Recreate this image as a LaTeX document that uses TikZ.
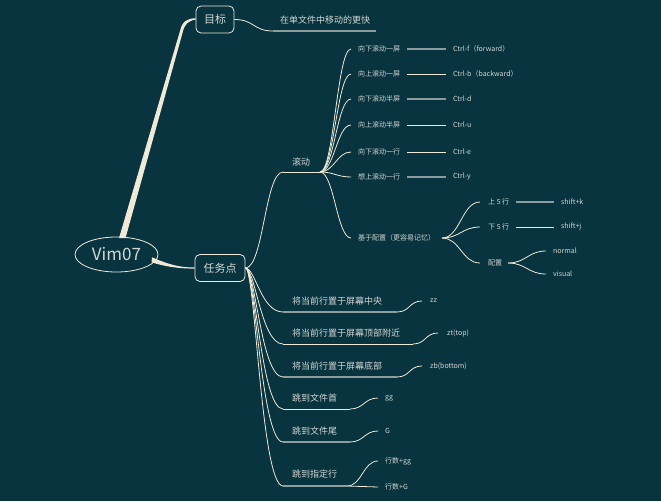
\documentclass[tikz,border=0pt]{standalone}
\usepackage{fontspec}
\setmainfont{Noto Sans CJK SC}
\usetikzlibrary{shapes.geometric,calc}
\definecolor{bg}{HTML}{07343F}
\definecolor{cream}{HTML}{EFE9D6}
\definecolor{txt}{HTML}{D3D7D2}
\definecolor{ulgray}{HTML}{8D9D9D}
\begin{document}
\begin{tikzpicture}[x=1pt,y=-1pt,
  conn/.style={draw=cream,line width=0.8pt},
  ulw/.style={draw=cream,line width=1pt},
  ulg/.style={draw=ulgray,line width=1.7pt},
  lbl/.style={text=txt,inner sep=0pt,anchor=west},
  small/.style={lbl,font=\fontsize{7}{8}\selectfont},
  mid/.style={lbl,font=\fontsize{9}{11}\selectfont},
  topbox/.style={draw=cream,line width=0.8pt,rounded corners=5pt,fill=bg,text=txt,
    font=\fontsize{11}{13}\selectfont,inner sep=0pt,minimum height=27pt},
  fan/.style={conn},
]
\fill[bg] (0,0) rectangle (661,501);
\useasboundingbox (0,0) rectangle (661,501);

% main nodes
\node[draw=cream,ellipse,line width=0.8pt,fill=bg,text=txt,minimum width=83pt,minimum height=35pt,
  inner sep=0pt,font=\fontsize{17}{20}\selectfont] (vim) at (116.5,254.5) {Vim07};
\node[topbox,minimum width=38pt] (goal) at (215,19.5) {目标};
\node[topbox,minimum width=50pt] (task) at (220,268) {任务点};

% tapered connectors
\coordinate (vg0) at (vim.north);
\fill[cream] ($(vg0)+(2.5,1.5)$) -- ($(vg0)+(9,1.5)$) -- (182.5,33)
  .. controls (184.5,24) and (188,21) .. (goal.west)
  -- ($(goal.west)+(0,-1.3)$) .. controls (187,18.5) and (182,21.5) .. (180,31) -- cycle;
\fill[cream] (152,257.3) .. controls (170,265) and (180,267.5) .. ($(task.west)+(0,-0.5)$)
  -- ($(task.west)+(0,0.6)$) .. controls (178,268.6) and (165,266.5) .. (151.5,262.3) -- cycle;

% goal child
\node[mid] (goaltxt) at (280,20) {在单文件中移动的更快};
\coordinate (g1) at (273,31);
\coordinate (g2) at (376,31);
\draw[conn] (goal.east) .. controls +(20,0) and +(-20,0) .. (g1);
\draw[ulg] (g1) -- (g2);

% scroll
\node[mid] (scroll) at (292,162) {滚动};
\coordinate (sc0) at (283,172);
\coordinate (sc1) at (320,172);
\draw[conn] (task.east) .. controls +(18,0) and +(-18,0) .. (sc0);
\draw[ulw] (sc0) -- (sc1);

\node[small] (s1) at (358,49) {向下滚动一屏};
\node[small] (s2) at (358,74) {向上滚动一屏};
\node[small] (s3) at (358,99) {向下滚动半屏};
\node[small] (s4) at (358,125) {向上滚动半屏};
\node[small] (s5) at (358,152) {向下滚动一行};
\node[small] (s6) at (358,177) {想上滚动一行};
\node[small] (s7) at (358,238) {基于配置（更容易记忆）};
\foreach \i in {1,...,7}{
  \draw[fan] (sc1) .. controls +(14,0) and +(-14,0) .. ([xshift=-7pt]s\i.west);
}
\node[small] (k1) at (453,49) {Ctrl-f（forward）};
\node[small] (k2) at (453,74) {Ctrl-b（backward）};
\node[small] (k3) at (453,99) {Ctrl-d};
\node[small] (k4) at (453,125) {Ctrl-u};
\node[small] (k5) at (453,152) {Ctrl-e};
\node[small] (k6) at (453,177) {Ctrl-y};
\draw[ulg] (407,49) -- ([xshift=-7pt]k1.west);
\draw[ulw] (407,74) -- ([xshift=-7pt]k2.west);
\draw[ulg] (407,99) -- ([xshift=-7pt]k3.west);
\draw[ulw] (407,125) -- ([xshift=-7pt]k4.west);
\draw[ulw] (407,152) -- ([xshift=-7pt]k5.west);
\draw[ulg] (407,177) -- ([xshift=-7pt]k6.west);

% configuration subtree
\coordinate (cf) at (442,238);
\node[small] (u5) at (488,202) {上 5 行};
\node[small] (d5) at (488,227) {下 5 行};
\node[small] (pz) at (488,263) {配置};
\foreach \n in {u5,d5,pz}{
  \draw[fan] (cf) .. controls +(18,0) and +(-18,0) .. ([xshift=-8pt]\n.west);
}
\node[small] (sk) at (561,202) {shift+k};
\node[small] (sj) at (561,227) {shift+j};
\draw[ulg] (516,202) -- ([xshift=-7pt]sk.west);
\draw[ulw] (516,227) -- ([xshift=-7pt]sj.west);
\coordinate (pf) at (508,263);
\node[small] (nm) at (553,251) {normal};
\node[small] (vs) at (553,274) {visual};
\foreach \n in {nm,vs}{
  \draw[fan] (pf) .. controls +(18,0) and +(-18,0) .. ([xshift=-7pt]\n.west);
}

% lower items
\node[mid] (l1) at (292,301) {将当前行置于屏幕中央};
\node[mid] (l2) at (292,333) {将当前行置于屏幕顶部附近};
\node[mid] (l3) at (292,366) {将当前行置于屏幕底部};
\node[mid] (l4) at (292,398) {跳到文件首};
\node[mid] (l5) at (292,431) {跳到文件尾};
\node[mid] (l6) at (292,474) {跳到指定行};
\coordinate (a1) at (283,312); \coordinate (b1) at (397,312);
\coordinate (a2) at (283,344); \coordinate (b2) at (413,344);
\coordinate (a3) at (283,377); \coordinate (b3) at (397,377);
\coordinate (a4) at (283,409); \coordinate (b4) at (350,409);
\coordinate (a5) at (283,442); \coordinate (b5) at (350,442);
\coordinate (a6) at (283,486); \coordinate (b6) at (347,486);
\foreach \i in {1,...,6}{
  \draw[conn] (task.east) .. controls +(10,0) and +(-22,0) .. (a\i);
}
\draw[ulg] (a1) -- (b1);
\draw[ulw] (a2) -- (b2);
\draw[ulg] (a3) -- (b3);
\draw[ulw] (a4) -- (b4);
\draw[ulg] (a5) -- (b5);
\draw[ulg] (a6) -- (b6);

\node[small] (m1) at (430,301) {zz};
\node[small] (m2) at (447,333) {zt(top)};
\node[small] (m3) at (430,366) {zb(bottom)};
\node[small] (m4) at (385,398) {gg};
\node[small] (m5) at (385,431) {G};
\node[small] (m6) at (385,461) {行数+gg};
\node[small] (m7) at (385,487) {行数+G};
\draw[conn] (b1) .. controls +(13,0) and +(-13,0) .. ([xshift=-8pt]m1.west);
\draw[conn] (b2) .. controls +(13,0) and +(-13,0) .. ([xshift=-9pt]m2.west);
\draw[conn] (b3) .. controls +(13,0) and +(-13,0) .. ([xshift=-8pt]m3.west);
\draw[conn] (b4) .. controls +(14,0) and +(-14,0) .. ([xshift=-7pt]m4.west);
\draw[conn] (b5) .. controls +(14,0) and +(-14,0) .. ([xshift=-7pt]m5.west);
\draw[conn] (b6) .. controls +(15,0) and +(-15,0) .. ([xshift=-7pt]m6.west);
\draw[conn] (b6) .. controls +(15,0) and +(-15,0) .. ([xshift=-7pt]m7.west);
\end{tikzpicture}
\end{document}
